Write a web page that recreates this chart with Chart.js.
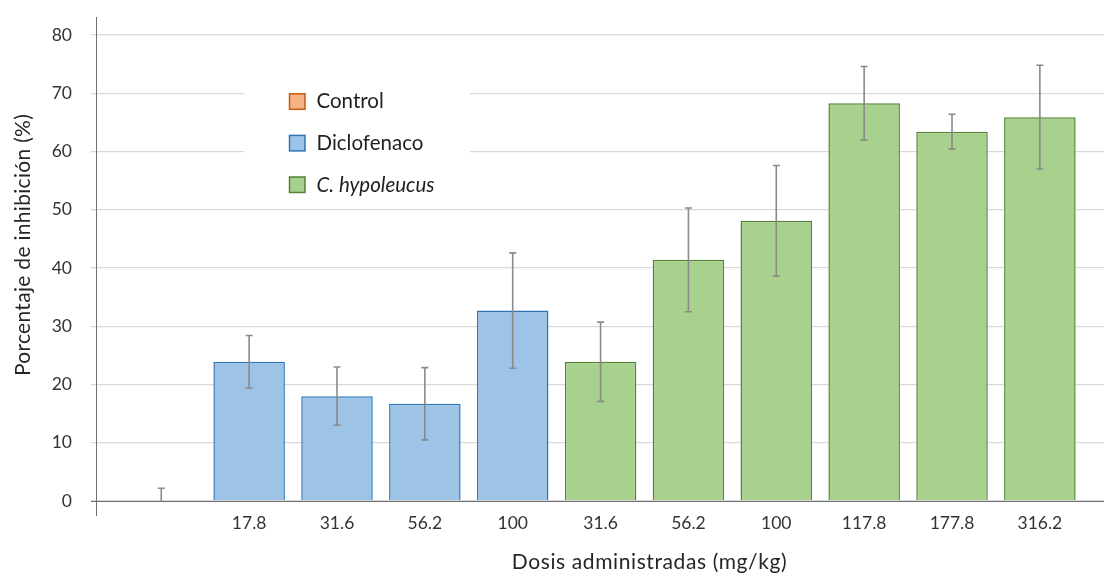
<!DOCTYPE html>
<html>
<head>
<meta charset="utf-8">
<script src="https://cdn.jsdelivr.net/npm/chart.js@4.4.1/dist/chart.umd.min.js"></script>
<style>
  html, body { margin: 0; padding: 0; background: #ffffff; }
  canvas { display: block; }
</style>
</head>
<body>
<canvas id="chart" width="1104" height="573"></canvas>
<script>
// Dose labels along the x axis (first slot is the untreated control)
const doseLabels = ['', '17.8', '31.6', '56.2', '100', '31.6', '56.2', '100', '117.8', '177.8', '316.2'];

// Series names shown in the legend
const seriesNames = ['Control', 'Diclofenaco', 'C. hypoleucus'];

// Percentage of inhibition and its error (±) per group
const controlValues = [0];
const controlErrors = [2.2];
const diclofenacoValues = [23.9, 18.0, 16.7, 32.7];
const diclofenacoErrors = [4.5, 5.0, 6.2, 9.9];
const hypoleucusValues = [23.9, 41.4, 48.1, 68.3, 63.4, 65.9];
const hypoleucusErrors = [6.8, 8.9, 9.5, 6.3, 3.0, 8.9];

// Value axis ticks
const yTicks = [0, 10, 20, 30, 40, 50, 60, 70, 80];

const FONT = 'Lato, "Open Sans", sans-serif';

// Each series occupies consecutive slots on the dose axis
function toPoints(values, start) {
  return values.map((v, i) => ({ x: start + i, y: v }));
}
const controlStart = 0;
const diclofenacoStart = controlStart + controlValues.length;
const hypoleucusStart = diclofenacoStart + diclofenacoValues.length;

const datasets = [
  {
    label: seriesNames[0],
    data: toPoints(controlValues, controlStart),
    errors: controlErrors,
    backgroundColor: '#F4B183',
    borderColor: '#C55A11'
  },
  {
    label: seriesNames[1],
    data: toPoints(diclofenacoValues, diclofenacoStart),
    errors: diclofenacoErrors,
    backgroundColor: '#9DC3E6',
    borderColor: '#2E75B6'
  },
  {
    label: seriesNames[2],
    data: toPoints(hypoleucusValues, hypoleucusStart),
    errors: hypoleucusErrors,
    backgroundColor: '#A9D18E',
    borderColor: '#548235',
    italic: true
  }
].map(d => Object.assign(d, {
  borderWidth: 1.5,
  borderSkipped: 'bottom',
  grouped: false,
  categoryPercentage: 1,
  barPercentage: 0.814
}));

// Error bars, axis lines, legend box and axis titles
const decorations = {
  id: 'decorations',
  afterDatasetsDraw(chart) {
    const { ctx, chartArea: area, scales: { y } } = chart;

    // error bars, clipped to the plotting area
    ctx.save();
    ctx.beginPath();
    ctx.rect(area.left, area.top, area.right - area.left, area.bottom - area.top);
    ctx.clip();
    ctx.strokeStyle = '#8a8a8a';
    ctx.lineWidth = 1.6;
    chart.data.datasets.forEach((ds, di) => {
      const meta = chart.getDatasetMeta(di);
      ds.data.forEach((pt, i) => {
        const el = meta.data[i];
        const err = ds.errors[i];
        const top = y.getPixelForValue(pt.y + err);
        const bot = y.getPixelForValue(pt.y - err);
        const x = el.x;
        ctx.beginPath();
        ctx.moveTo(x, top); ctx.lineTo(x, bot);
        ctx.moveTo(x - 3.5, top); ctx.lineTo(x + 3.5, top);
        ctx.moveTo(x - 3.5, bot); ctx.lineTo(x + 3.5, bot);
        ctx.stroke();
      });
    });
    ctx.restore();

    // axis lines
    const y0 = Math.round(y.getPixelForValue(0)) + 0.5;
    const xAxis = Math.round(area.left) + 0.5;
    ctx.save();
    ctx.strokeStyle = '#6f6f6f';
    ctx.lineWidth = 1;
    ctx.beginPath();
    ctx.moveTo(area.left - 5, y0); ctx.lineTo(chart.width, y0);
    ctx.moveTo(xAxis, 17); ctx.lineTo(xAxis, 516);
    ctx.stroke();
    ctx.restore();
  },
  afterDraw(chart) {
    const { ctx } = chart;
    ctx.save();

    // legend panel sitting over the gridlines
    ctx.fillStyle = '#ffffff';
    ctx.fillRect(244, 76, 226, 129);
    chart.data.datasets.forEach((ds, i) => {
      const cy = 101.8 + i * 41.6;
      ctx.fillStyle = ds.backgroundColor;
      ctx.fillRect(289.5, cy - 8, 15.5, 15.5);
      ctx.strokeStyle = ds.borderColor;
      ctx.lineWidth = 1.5;
      ctx.strokeRect(289.5, cy - 8, 15.5, 15.5);
      ctx.fillStyle = '#1f1f1f';
      ctx.font = (ds.italic ? 'italic ' : '') + '20.5px ' + FONT;
      ctx.textAlign = 'left';
      ctx.textBaseline = 'middle';
      ctx.fillText(ds.label, 316.5, cy);
    });

    // axis titles
    ctx.fillStyle = '#262626';
    ctx.font = '21px ' + FONT;
    ctx.letterSpacing = '0.6px';
    ctx.textAlign = 'center';
    ctx.textBaseline = 'alphabetic';
    ctx.fillText('Dosis administradas (mg/kg)', 649.5, 569);

    ctx.letterSpacing = '0.3px';
    ctx.translate(23, 245);
    ctx.rotate(-Math.PI / 2);
    ctx.textBaseline = 'middle';
    ctx.fillText('Porcentaje de inhibición (%)', 0, 0);
    ctx.restore();
  }
};

new Chart(document.getElementById('chart'), {
  type: 'bar',
  data: { datasets },
  plugins: [decorations],
  options: {
    responsive: false,
    animation: false,
    devicePixelRatio: 1,
    layout: { padding: { top: 35, right: 0, left: 0, bottom: 0 } },
    plugins: {
      legend: { display: false },
      tooltip: { enabled: false }
    },
    scales: {
      x: {
        type: 'linear',
        min: -0.743,
        max: 10.73,
        offset: false,
        grid: { display: false, drawTicks: false, offset: false },
        border: { display: false },
        afterBuildTicks: scale => { scale.ticks = doseLabels.map((_, i) => ({ value: i })); },
        afterFit: scale => { scale.height = 72; },
        ticks: {
          autoSkip: false,
          maxRotation: 0,
          padding: 12,
          color: '#333333',
          font: { family: FONT, size: 17.5 },
          callback: v => doseLabels[Math.round(v)]
        }
      },
      y: {
        min: yTicks[0],
        max: yTicks[yTicks.length - 1],
        afterBuildTicks: scale => { scale.ticks = yTicks.map(v => ({ value: v })); },
        afterFit: scale => { scale.width = 96; },
        grid: { color: '#d9d9d9', lineWidth: 1.3, tickLength: 5, drawTicks: true },
        border: { display: false },
        ticks: {
          padding: 19,
          color: '#333333',
          font: { family: FONT, size: 17.5 }
        }
      }
    }
  }
});
</script>
</body>
</html>
